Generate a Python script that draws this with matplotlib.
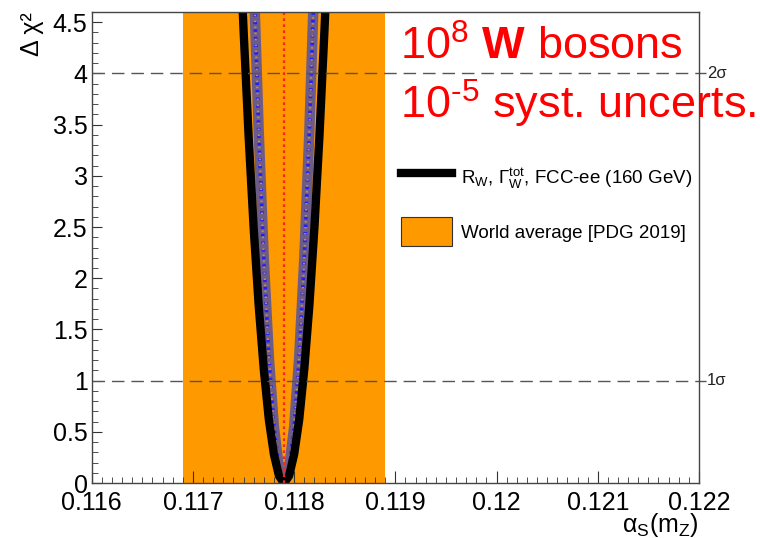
import matplotlib
matplotlib.use('Agg')
import matplotlib.pyplot as plt
from matplotlib.lines import Line2D
from matplotlib.patches import Patch

plt.rcParams['font.family'] = ['Liberation Sans', 'DejaVu Sans']
plt.rcParams['mathtext.fontset'] = 'custom'
plt.rcParams['mathtext.rm'] = 'Liberation Sans'
plt.rcParams['mathtext.it'] = 'Liberation Sans:italic'
plt.rcParams['mathtext.bf'] = 'Liberation Sans:bold'

# fit curve (black), FCC-ee W
alpha_fit = [0.11748, 0.1175, 0.11755, 0.1176, 0.11765, 0.1177, 0.11775, 0.1178, 0.11785, 0.1179,
             0.11795, 0.118, 0.11805, 0.1181, 0.11815, 0.1182, 0.11825, 0.1183, 0.11832]
chi2_fit = [4.89, 4.43, 3.39, 2.49, 1.73, 1.11, 0.62, 0.28, 0.07, 0.0,
            0.07, 0.28, 0.62, 1.11, 1.73, 2.49, 3.39, 4.43, 4.89]

# inner patterned curve
alpha_in = [0.1176, 0.11765, 0.1177, 0.11775, 0.1178, 0.11785, 0.1179,
            0.11795, 0.118, 0.11805, 0.1181, 0.11815, 0.1182]
chi2_in = [4.94, 3.43, 2.19, 1.23, 0.55, 0.14, 0.0,
           0.14, 0.55, 1.23, 2.19, 3.43, 4.94]

# world average
pdg_central = 0.1179
pdg_err = 0.0010

sigma_levels = [1, 4]
sigma_labels = ['1σ', '2σ']

fig = plt.figure(figsize=(7.6, 5.38), dpi=100)
ax = fig.add_axes([0.1207, 0.1022, 0.7990, 0.8755])

ax.axvspan(pdg_central - pdg_err, pdg_central + pdg_err, color='#ff9900', lw=0, zorder=1)

ax.plot(alpha_in, chi2_in, color='#6c5c86', lw=7.5, zorder=3, solid_capstyle='butt')
ax.plot(alpha_in, chi2_in, color='#1f1fff', lw=2.6, ls=(0, (0.7, 1.4)), zorder=3.1)
ax.plot(alpha_in, chi2_in, color='#d08840', lw=1.6, ls=(1.05, (0.7, 2.0)), zorder=3.2)
ax.plot(alpha_fit, chi2_fit, color='black', lw=6, zorder=4, solid_joinstyle='round')

ax.axvline(pdg_central, color='#ff2020', lw=1.6, ls=(0, (1.2, 1.5)), zorder=5)

for lev, lab in zip(sigma_levels, sigma_labels):
    ax.axhline(lev, xmin=0, xmax=1.012, color='#555555', lw=1.0, ls=(0, (9, 5)),
               clip_on=False, zorder=6)
    ax.text(1.013, lev, lab, transform=ax.get_yaxis_transform(), fontsize=12,
            color='#222222', ha='left', va='center')

ax.set_xlim(0.116, 0.122)
ax.set_ylim(0, 4.6)
ax.set_xticks([0.116, 0.117, 0.118, 0.119, 0.12, 0.121, 0.122])
ax.set_xticklabels(['0.116', '0.117', '0.118', '0.119', '0.12', '0.121', '0.122'])
ax.set_xticks([0.116 + 0.0001 * i for i in range(61)], minor=True)
ax.set_yticks([0, 0.5, 1, 1.5, 2, 2.5, 3, 3.5, 4, 4.5])
ax.set_yticklabels(['0', '0.5', '1', '1.5', '2', '2.5', '3', '3.5', '4', '4.5'])
ax.set_yticks([0.1 * i for i in range(47)], minor=True)
ax.tick_params(axis='both', which='both', direction='in', top=False, right=False,
               labelsize=18, color='#333333')
ax.tick_params(axis='x', which='major', length=9, pad=6)
ax.tick_params(axis='x', which='minor', length=4.5)
ax.tick_params(axis='y', which='major', length=7, pad=3)
ax.tick_params(axis='y', which='minor', length=4)
for sp in ax.spines.values():
    sp.set_color('#444444')
    sp.set_linewidth(1.0)
    sp.set_zorder(7)

ax.set_xlabel(r'$\mathrm{α_S(m_Z)}$', fontsize=18, loc='right', labelpad=-3)
ax.set_ylabel('Δ χ²', fontsize=18, loc='top', labelpad=6)

handles = [Line2D([], [], color='black', lw=6),
           Patch(facecolor='#ff9900', edgecolor='#333333', lw=0.8)]
labels = [r'R$_{\rm W}$, Γ$_{\rm W}^{\rm tot}$, FCC-ee (160 GeV)', 'World average [PDG 2019]']
ax.legend(handles, labels, loc='upper left', bbox_to_anchor=(0.497, 0.695), frameon=False,
          fontsize=13.5, handlelength=2.7, handleheight=2.0, labelspacing=1.35,
          handletextpad=0.5, borderaxespad=0)

ax.text(0.508, 0.972, r'10$^{8}$ $\mathbf{W}$ bosons', transform=ax.transAxes,
        fontsize=32.5, color='red', ha='left', va='top')
ax.text(0.508, 0.86, r'10$^{\text{-}5}$ syst. uncerts.', transform=ax.transAxes,
        fontsize=32.5, color='red', ha='left', va='top', clip_on=False)

fig.savefig('out.png', dpi=100)
